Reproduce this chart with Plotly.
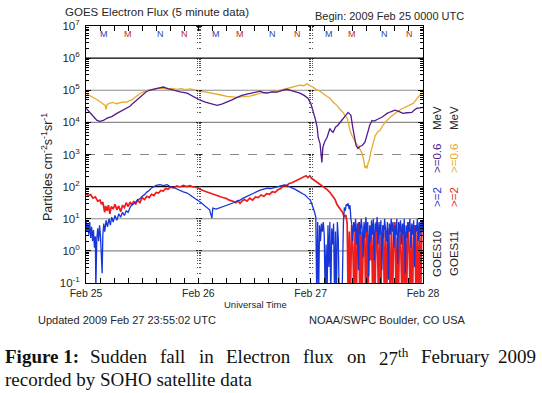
import plotly.graph_objects as go

# ---------------- data (hours since 2009-02-25 00:00 UTC, log10 flux) ----------------
goes11_06_hours = [0.0, 0.7, 1.5, 2.2, 3.0, 3.6, 4.1, 4.3, 4.5, 5.1, 5.8, 6.5, 7.3, 8.0, 8.8, 9.3, 9.8, 10.4,
                   11.1, 11.8, 12.6, 13.4, 14.3, 15.4, 16.5, 17.5, 18.4, 19.4, 20.3, 21.2, 22.2, 23.3, 24.4,
                   25.7, 27.1, 28.6, 30.1, 31.2, 32.3, 33.6, 35.0, 36.1, 37.2, 38.6, 40.0, 41.5, 43.0, 44.3,
                   45.7, 46.5, 47.2, 47.9, 48.5, 49.2, 50.0, 51.0, 52.1, 52.9, 53.6, 54.3, 54.9, 55.4, 55.8,
                   56.1, 56.4, 56.8, 57.1, 57.6, 58.1, 58.6, 59.0, 59.3, 59.6, 59.8, 60.0, 60.3, 60.5, 60.8,
                   61.1, 61.5, 61.8, 62.3, 62.8, 63.5, 64.3, 65.2, 66.0, 66.8, 67.7, 68.8, 69.9, 70.5, 71.2, 72.0]
goes11_06_exp = [4.90, 4.85, 4.78, 4.72, 4.64, 4.58, 4.53, 4.40, 4.56, 4.60, 4.62, 4.58, 4.61, 4.64, 4.63, 4.68,
                 4.70, 4.78, 4.85, 4.92, 4.97, 5.01, 5.03, 5.06, 5.06, 5.04, 5.06, 5.03, 5.05, 5.02, 5.04, 5.00,
                 4.97, 4.94, 4.91, 4.86, 4.81, 4.79, 4.78, 4.80, 4.82, 4.86, 4.91, 4.93, 4.94, 5.00, 5.06, 5.10,
                 5.16, 5.14, 5.20, 5.14, 5.10, 5.02, 4.97, 4.86, 4.75, 4.62, 4.53, 4.40, 4.31, 4.20, 4.13,
                 3.95, 3.75, 3.60, 3.50, 3.38, 3.28, 3.15, 3.03, 2.85, 2.59, 2.65, 2.56, 2.75, 2.81, 3.05,
                 3.22, 3.45, 3.59, 3.70, 3.75, 3.92, 4.06, 4.18, 4.28, 4.36, 4.44, 4.52, 4.59, 4.70, 4.82, 4.92]

goes10_06_hours = [0.0, 0.4, 0.85, 1.6, 2.35, 3.0, 3.7, 4.5, 5.5, 6.6, 7.7, 8.8, 9.4, 10.0, 10.7, 11.5, 12.2,
                   13.0, 14.1, 15.2, 15.9, 16.5, 17.5, 18.6, 20.1, 21.6, 23.0, 24.4, 25.5, 26.5, 27.3, 28.0,
                   29.0, 30.1, 31.2, 32.3, 33.3, 34.4, 35.8, 37.2, 37.9, 38.7, 39.7, 40.8, 41.8, 42.9, 43.9,
                   45.1, 45.7, 46.6, 47.4, 48.0, 48.5, 49.0, 49.4, 49.6, 50.0, 50.4, 50.6, 51.0, 51.5, 52.1,
                   52.5, 52.8, 53.3, 53.8, 54.4, 54.9, 55.5, 56.0, 56.6, 57.0, 57.4, 57.7, 58.1, 58.5, 59.0,
                   59.6, 60.2, 60.6, 61.1, 61.6, 62.2, 62.7, 63.2, 63.8, 64.3, 65.1, 66.0, 66.8, 67.7, 68.6,
                   69.6, 70.1, 70.7, 71.4, 72.0]
goes10_06_exp = [4.44, 4.38, 4.28, 4.18, 4.06, 4.03, 4.06, 4.13, 4.18, 4.28, 4.36, 4.44, 4.50, 4.59, 4.68, 4.78,
                 4.88, 4.97, 5.02, 5.06, 5.09, 5.10, 5.05, 5.00, 4.95, 4.91, 4.80, 4.69, 4.63, 4.59, 4.55, 4.53,
                 4.57, 4.63, 4.70, 4.78, 4.84, 4.88, 4.92, 4.97, 4.93, 4.91, 4.95, 4.94, 4.99, 5.03, 4.99,
                 4.94, 4.91, 4.84, 4.75, 4.60, 4.38, 4.10, 3.84, 3.53, 3.34, 2.75, 3.22, 3.40, 3.53, 3.81,
                 3.72, 3.69, 3.85, 3.91, 4.02, 4.13, 4.22, 4.31, 4.22, 3.84, 3.50, 3.28, 3.19, 3.25, 3.28,
                 3.38, 3.69, 3.90, 4.06, 4.04, 4.09, 4.12, 4.16, 4.22, 4.28, 4.33, 4.38, 4.34, 4.28, 4.30,
                 4.31, 4.38, 4.44, 4.45, 4.47]

goes11_2_hours = [0.0, 0.5, 1.0, 1.5, 2.0, 2.5, 3.0, 3.3, 3.6, 4.0, 4.2, 4.5, 4.8, 5.1, 5.4, 5.8, 6.2, 6.6, 7.0,
                  7.4, 7.8, 8.2, 8.6, 9.0, 9.4, 9.8, 10.2, 10.6, 11.0, 11.5, 12.0, 12.5, 13.0, 13.5, 14.0,
                  14.5, 15.0, 15.5, 16.0, 16.5, 17.0, 17.5, 18.0, 18.7, 19.4, 20.1, 20.8, 21.5, 22.2, 22.9,
                  23.6, 24.3, 25.0, 25.7, 26.4, 27.1, 27.8, 28.5, 29.2, 29.9, 30.6, 31.3, 32.0, 32.5, 32.9,
                  33.4, 33.9, 34.4, 35.0, 35.6, 36.2, 36.8, 37.4, 38.0, 38.6, 39.2, 39.8, 40.4, 41.0, 41.6,
                  42.2, 42.8, 43.4, 44.0, 44.6, 45.2, 45.8, 46.4, 47.0, 47.4, 47.8, 48.2, 48.6, 49.2, 49.8,
                  50.4, 51.0, 51.6, 52.2, 52.8, 53.2, 53.6, 54.0, 54.4, 54.8, 55.2, 55.5, 55.8,
                  56.0, 56.25, 56.5, 56.75, 57.0, 57.25, 57.5, 57.75, 58.0, 58.25, 58.5, 58.75, 59.0, 59.25,
                  59.5, 59.75, 60.0, 60.25, 60.5, 60.75, 61.0, 61.25, 61.5, 61.75, 62.0, 62.25, 62.5, 62.75,
                  63.0, 63.25, 63.5, 63.75, 64.0, 64.25, 64.5, 64.75, 65.0, 65.25, 65.5, 65.75, 66.0, 66.25,
                  66.5, 66.75, 67.0, 67.25, 67.5, 67.75, 68.0, 68.25, 68.5, 68.75, 69.0, 69.25, 69.5, 69.75,
                  70.0, 70.25, 70.5, 70.75, 71.0, 71.25, 71.5, 71.75, 72.0]
goes11_2_exp = [1.78, 1.72, 1.75, 1.64, 1.68, 1.55, 1.58, 1.45, 1.52, 1.20, 1.40, 1.25, 1.42, 1.15, 1.38, 1.30,
                1.45, 1.28, 1.40, 1.22, 1.42, 1.35, 1.50, 1.38, 1.52, 1.42, 1.55, 1.45, 1.58, 1.50, 1.66, 1.60,
                1.70, 1.66, 1.76, 1.72, 1.82, 1.80, 1.88, 1.86, 1.94, 1.92, 1.98, 1.96, 2.02, 1.99, 2.04, 2.00,
                2.03, 1.99, 1.98, 1.92, 1.88, 1.84, 1.80, 1.76, 1.74, 1.70, 1.66, 1.64, 1.58, 1.55, 1.50, 1.56,
                1.48, 1.56, 1.60, 1.55, 1.64, 1.58, 1.68, 1.66, 1.74, 1.70, 1.78, 1.76, 1.84, 1.82, 1.90, 1.94,
                2.04, 2.02, 2.10, 2.12, 2.16, 2.20, 2.25, 2.30, 2.34, 2.28, 2.34, 2.26, 2.22, 2.16, 2.08, 2.02,
                1.96, 1.90, 1.80, 1.66, 1.60, 1.45, 1.38, 1.28, 1.20, 1.05, 1.12, 0.86,
                -1.5, 0.6, -1.5, 0.8, 0.2, -1.5, 0.7, -1.5, 0.5, 0.9, -1.5, 0.6, -1.5, 0.4,
                0.8, -1.5, 0.7, -1.5, 0.5, -0.3, 0.8, -1.5, 0.6, -1.5, 0.9, 0.3, -1.5, 0.7,
                -1.5, 0.5, 0.8, -1.5, 0.6, -1.5, 0.7, 0.2, -1.5, 0.8, -1.5, 0.5, 0.9, -1.5,
                0.4, -1.5, 0.7, 0.1, -1.5, 0.8, -1.5, 0.6, -1.5, 0.9, 0.3, -1.5, 0.7, -1.5,
                0.5, 0.8, -1.5, 0.6, -1.5, 0.8, -1.5, 0.7, 0.9]

goes10_2_hours = [0.0, 0.2, 0.4, 0.6, 0.8, 1.0, 1.2, 1.4, 1.6, 1.8, 2.0, 2.1, 2.3, 2.5, 2.7, 2.9, 3.1, 3.3,
                  3.45, 3.6, 3.8, 4.0, 4.3, 4.6, 4.9, 5.2, 5.5, 5.8, 6.2, 6.6, 7.0, 7.4, 7.8, 8.2, 8.6, 9.0,
                  9.5, 10.0, 10.5, 11.0, 11.5, 12.0, 12.5, 13.0, 13.5, 14.0, 14.5, 15.0, 15.8, 16.5, 17.3,
                  18.0, 18.6, 19.3, 20.1, 20.8, 21.6, 22.3, 22.9, 23.6, 24.4, 25.1, 25.9, 26.4, 26.9, 27.1,
                  27.8, 28.6, 29.3, 30.1, 30.8, 31.4, 32.2, 32.9, 33.6, 34.4, 35.0, 35.8, 36.5, 37.2, 38.0,
                  38.8, 39.5, 40.3, 41.0, 41.8, 42.6, 43.2, 43.9, 44.5, 45.1, 45.8, 46.4, 46.8, 47.4, 47.9,
                  48.2, 48.5, 48.8, 49.1, 49.3,
                  49.5, 49.7, 49.9, 50.1, 50.3, 50.5, 50.7, 50.9, 51.1, 51.3, 51.5, 51.7, 51.9, 52.1, 52.3,
                  52.5, 52.7, 52.9, 53.1, 53.3, 53.5, 53.7, 53.9, 54.1, 54.4, 54.7, 55.0, 55.2, 55.4, 55.6,
                  55.8, 56.0, 56.2, 56.4, 56.6, 56.8, 57.0, 57.2, 57.4, 57.6, 57.8, 58.0, 58.2, 58.4, 58.6,
                  58.8, 59.0, 59.2, 59.4, 59.6, 59.8, 60.0, 60.2, 60.4, 60.6, 60.8, 61.0, 61.2, 61.4, 61.6,
                  61.8, 62.0, 62.2, 62.4, 62.6, 62.8, 63.0, 63.2, 63.4, 63.6, 63.8, 64.0, 64.2, 64.4, 64.6,
                  64.8, 65.0, 65.2, 65.4, 65.6, 65.8, 66.0, 66.2, 66.4, 66.6, 66.8, 67.0, 67.2, 67.4, 67.6,
                  67.8, 68.0, 68.2, 68.4, 68.6, 68.8, 69.0, 69.2, 69.4, 69.6, 69.8, 70.0, 70.2, 70.4, 70.6,
                  70.8, 71.0, 71.2, 71.4, 71.6, 71.8, 72.0]
goes10_2_exp = [0.95, 0.60, 0.85, 0.50, 0.90, 0.40, 0.75, 0.30, 0.65, 0.10, 0.45, -1.2, 0.35, 0.70, 0.30, 0.80,
                0.45, -0.1, -0.7, 0.50, 0.85, 0.60, 0.95, 0.75, 1.00, 0.80, 1.05, 0.90, 1.10, 0.95, 1.15, 1.05,
                1.20, 1.10, 1.25, 1.20, 1.38, 1.45, 1.50, 1.58, 1.62, 1.70, 1.75, 1.83, 1.88, 1.96, 2.00, 2.04,
                2.06, 2.03, 2.06, 2.00, 1.98, 1.93, 1.89, 1.84, 1.80, 1.72, 1.67, 1.60, 1.52, 1.44, 1.36, 1.28,
                1.02, 1.33, 1.30, 1.34, 1.38, 1.42, 1.46, 1.49, 1.55, 1.58, 1.64, 1.70, 1.74, 1.79, 1.84, 1.89,
                1.92, 1.95, 1.94, 1.98, 2.00, 2.03, 2.05, 2.02, 1.97, 1.93, 1.89, 1.82, 1.77, 1.74, 1.65, 1.58,
                1.48, 1.36, 1.22, 1.05, -1.5,
                0.9, -1.5, 0.8, 0.3, 0.85, 0.6, 0.9, 0.5, -1.5, 0.2, -1.5, 0.8, -0.5, 0.9, -1.5,
                0.7, 0.2, 0.85, -1.5, 0.6, -1.5, 0.9, 0.4, -1.5, -1.5, -1.5, 0.9, 1.35, 1.25, 1.45,
                1.40, 1.48, 1.30, 1.42, 1.0, 0.8, 0.3, 0.9, 0.6, 1.0, 0.2, 0.85, -0.6, 0.9, 0.5,
                1.0, 0.7, -0.2, 0.9, 0.4, 1.05, 0.6, 0.9, -0.8, 0.8, 0.3, 0.95, 0.5, 1.0, -0.3,
                0.85, 0.6, 1.05, 0.2, 0.9, 0.5, 0.95, -0.6, 0.8, 0.4, 1.0, 0.7, 0.3, 0.9, -0.9,
                0.85, 0.5, 1.0, 0.6, 0.9, 0.1, 0.8, 0.5, 1.0, -0.4, 0.9, 0.6, 0.95, 0.2, 0.85,
                0.5, 1.0, -0.7, 0.8, 0.4, 0.9, 0.6, 1.0, 0.1, 0.85, 0.5, 0.95, -0.5, 0.8, 0.6,
                1.0, 0.3, 0.9, 0.5, 0.95, 0.6, 0.9]

day_labels = ["Feb 25", "Feb 26", "Feb 27", "Feb 28"]
day_hours = [0, 24, 48, 72]
decades = [-1, 0, 1, 2, 3, 4, 5, 6, 7]
# satellite noon/midnight markers: (fraction of day, letter, colour key)
mn_marks = [(0.16, "M", "g10"), (0.37, "M", "g11"), (0.66, "N", "g10"), (0.88, "N", "g11")]

# ---------------- styling ----------------
C_ORANGE = "#E9A92C"
C_PURPLE = "#4F1C8E"
C_RED = "#EE1C1C"
C_BLUE = "#1836D8"
C_TXT = "#262626"
FONT = "Liberation Sans"

W, H = 542, 393
L, R, T, B = 86, 423, 26, 283   # plot-area edges in pixels


def px(x):
    return (x - L) / (R - L)


def py(y):
    return (B - y) / (B - T)


major_vals = [10.0 ** d for d in decades]
major_text = ["10<sup>%d</sup>" % d for d in decades]
minor_vals = [m * 10.0 ** d for d in decades[:-1] for m in range(2, 10)]

fig = go.Figure()


def add_series(hours, exps, color, width=1.3):
    fig.add_trace(go.Scatter(x=hours, y=[10.0 ** e for e in exps], mode="lines",
                             line=dict(color=color, width=width), showlegend=False,
                             hoverinfo="skip", cliponaxis=True))


add_series(goes11_06_hours, goes11_06_exp, C_ORANGE)
add_series(goes10_06_hours, goes10_06_exp, C_PURPLE)
add_series(goes11_2_hours, goes11_2_exp, C_RED, 1.7)
add_series(goes10_2_hours, goes10_2_exp, C_BLUE, 1.3)

# dummy traces so the day-boundary tick axes are drawn
for k in range(2, 6):
    fig.add_trace(go.Scatter(x=[None], y=[None], yaxis="y%d" % k, showlegend=False, hoverinfo="skip"))

axis_common = dict(type="log", range=[-1, 7], showgrid=False, zeroline=False)

layout_axes = {}
for k, (pos, side) in zip(range(2, 6), [(1 / 3, "left"), (1 / 3, "right"), (2 / 3, "left"), (2 / 3, "right")]):
    layout_axes["yaxis%d" % k] = dict(
        axis_common, overlaying="y", anchor="free", position=pos, side=side, showline=False,
        tickmode="array", tickvals=major_vals, showticklabels=False, ticks="outside", ticklen=2.5,
        tickcolor="#222", tickwidth=1,
        minor=dict(tickmode="array", tickvals=minor_vals, ticks="outside", ticklen=1.5, tickcolor="#555"))

fig.update_layout(
    width=W, height=H,
    margin=dict(l=L, r=W - R, t=T, b=H - B, pad=0),
    paper_bgcolor="white", plot_bgcolor="white",
    font=dict(family=FONT, color=C_TXT, size=11),
    xaxis=dict(range=[0, 72], tickmode="array", tickvals=day_hours, ticktext=day_labels,
               ticks="inside", ticklen=5, tickcolor="#000", showline=True, linecolor="#000", linewidth=1,
               mirror="allticks", showgrid=False, zeroline=False,
               tickfont=dict(size=10.5, color=C_TXT),
               minor=dict(dtick=3, tick0=0, ticks="inside", ticklen=3, tickcolor="#000")),
    yaxis=dict(axis_common, tickmode="array", tickvals=major_vals, ticktext=major_text,
               ticks="inside", ticklen=5, tickcolor="#000", showline=True, linecolor="#000", linewidth=1,
               mirror="allticks", tickfont=dict(size=11.5, color=C_TXT), ticklabelstandoff=3,
               minor=dict(tickmode="array", tickvals=minor_vals, ticks="inside", ticklen=3, tickcolor="#000")),
    **layout_axes,
)

# horizontal reference lines at each decade
line_style = {6: ("#000", "solid"), 5: ("#8a8a8a", "solid"), 4: ("#8a8a8a", "solid"), 3: ("#8a8a8a", "dash"),
              2: ("#000", "solid"), 1: ("#8a8a8a", "solid"), 0: ("#8a8a8a", "solid")}
for d, (col, dash) in line_style.items():
    yy = (d - decades[0]) / (decades[-1] - decades[0])
    fig.add_shape(type="line", xref="x domain", yref="y domain", x0=0, x1=1, y0=yy, y1=yy,
                  line=dict(color=col, width=1.2, dash=dash), layer="below")

ann = []


def text(x, y, s, size=11, color=C_TXT, xanchor="left", angle=0, family=FONT):
    ann.append(dict(xref="paper", yref="paper", x=px(x), y=py(y), text=s, showarrow=False,
                    xanchor=xanchor, yanchor="middle", textangle=angle, borderpad=0,
                    font=dict(size=size, color=color, family=family)))


text(64, 12, "GOES Electron Flux (5 minute data)", 11.5)
text(314, 16, "Begin: 2009 Feb 25 0000 UTC", 11)
text(255, 304, "Universal Time", 9.5, xanchor="center")
text(37, 320, "Updated 2009 Feb 27 23:55:02 UTC", 11)
text(467, 320, "NOAA/SWPC Boulder, CO USA", 11, xanchor="right")
text(47, 167, "Particles cm<sup>-2</sup>s<sup>-1</sup>sr<sup>-1</sup>", 12.5, xanchor="center", angle=-90)

# rotated series labels on the right
sat_colors = {"g10": (C_BLUE, C_PURPLE), "g11": (C_RED, C_ORANGE)}
for xcol, sat, key in [(437, "GOES10", "g10"), (454, "GOES11", "g11")]:
    c2, c06 = sat_colors[key]
    text(xcol, 254, sat, 11.5, C_TXT, "center", -90)
    text(xcol, 197, "&gt;=2", 11.5, c2, "center", -90)
    text(xcol, 159, "&gt;=0.6", 11.5, c06, "center", -90)
    text(xcol, 118, "MeV", 11.5, C_TXT, "center", -90)

# M / N markers along the top of the plot
mark_colors = {"g10": "#2B44A8", "g11": "#B8282E"}
for d in range(3):
    for frac, letter, key in mn_marks:
        ann.append(dict(xref="x", yref="paper", x=day_hours[d] + frac * 24, y=py(34), text=letter,
                        showarrow=False, xanchor="center", yanchor="middle",
                        font=dict(size=9, color=mark_colors[key], family=FONT)))

# caption (justified first line, placed word by word)
SERIF = "Liberation Serif"
cap_words = [(4, "<b>Figure 1:</b>"), (89, "Sudden"), (159, "fall"), (198, "in"), (225, "Electron"),
             (302, "flux"), (346, "on"), (378, "27<sup>th</sup>"), (420, "February")]
for xw, w in cap_words:
    text(xw, 357, w, 19, "#111", "left", 0, SERIF)
text(537, 357, "2009", 19, "#111", "right", 0, SERIF)
text(4, 379, "recorded by SOHO satellite data", 19, "#111", "left", 0, SERIF)

fig.update_layout(annotations=ann)
fig.write_html("out.html", config={"displayModeBar": False},
               post_script="document.body.style.margin='0px';")
